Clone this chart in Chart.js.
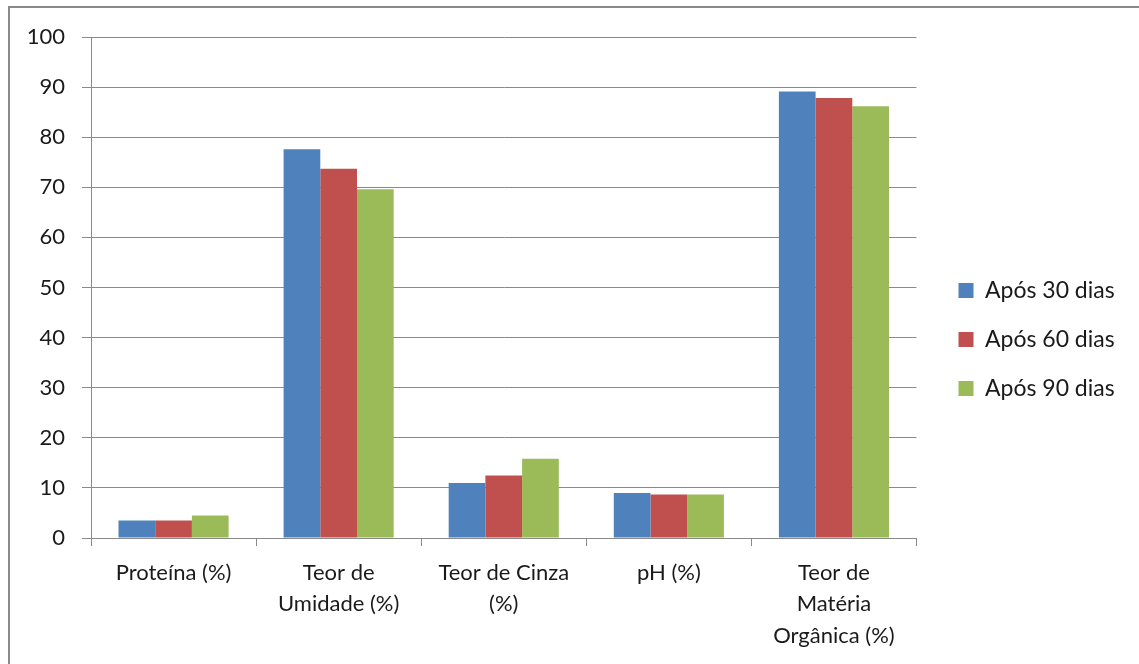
<!DOCTYPE html>
<html>
<head>
<meta charset="utf-8">
<script src="https://cdn.jsdelivr.net/npm/chart.js@4/dist/chart.umd.min.js"></script>
<style>
  html, body { margin: 0; padding: 0; background: #fff; }
  #wrap { position: relative; width: 1139px; height: 664px; overflow: hidden; }
  #frame { position: absolute; left: 8px; top: 6px; width: 1200px; height: 700px; border: 2px solid #8a8a8a; }
  #grafico { position: absolute; left: 0; top: 0; }
</style>
</head>
<body>
<div id="wrap">
  <div id="frame"></div>
  <canvas id="grafico" width="1139" height="664"></canvas>
</div>
<script>
var categorias = [
  'Proteína (%)',
  ['Teor de', 'Umidade (%)'],
  ['Teor de Cinza', '(%)'],
  'pH (%)',
  ['Teor de', 'Matéria', 'Orgânica (%)']
];
var apos30 = [3.5, 77.6, 11.0, 9.0, 89.1];
var apos60 = [3.5, 73.7, 12.5, 8.7, 87.8];
var apos90 = [4.5, 69.6, 15.8, 8.7, 86.2];
var nomes = ['Após 30 dias', 'Após 60 dias', 'Após 90 dias'];
var cores = ['#4F81BD', '#C0504D', '#9BBB59'];

var fonte = "Lato, 'Open Sans', sans-serif";
var cinza = '#8a8a8a';

var series = [apos30, apos60, apos90];
var datasets = [];
for (var i = 0; i < series.length; i++) {
  datasets.push({
    label: nomes[i],
    data: series[i],
    backgroundColor: cores[i],
    borderWidth: 0,
    categoryPercentage: 0.667,
    barPercentage: 1
  });
}

// caixas vazias so para afastar a area do grafico
var vazio = {
  grid: { display: false },
  border: { display: false },
  ticks: { display: false }
};

var ctx = document.getElementById('grafico');
var grafico = new Chart(ctx, {
  type: 'bar',
  data: { labels: categorias, datasets: datasets },
  options: {
    responsive: false,
    animation: false,
    layout: { padding: { top: 15, right: 20, bottom: 0, left: 0 } },
    scales: {
      x: {
        offset: true,
        grid: { offset: true, drawOnChartArea: false, color: cinza, tickLength: 8 },
        border: { color: cinza },
        ticks: { color: '#1a1a1a', padding: 11, maxRotation: 0, autoSkip: false,
                 font: { family: fonte, size: 22, lineHeight: 1.43 } },
        afterFit: function(s) { s.height = 126; }
      },
      y: {
        min: 0, max: 100,
        grid: { color: cinza, tickLength: 9 },
        border: { color: cinza },
        ticks: { stepSize: 10, color: '#1a1a1a', padding: 17,
                 font: { family: fonte, size: 22 } },
        afterFit: function(s) { s.width = 91; }
      },
      topo: Object.assign({ axis: 'x', position: 'top',
        afterFit: function(s) { s.height = 22; } }, vazio),
      folga: Object.assign({ axis: 'y', position: 'right',
        afterFit: function(s) { s.width = 16; } }, vazio)
    },
    plugins: {
      legend: {
        position: 'right',
        labels: { boxWidth: 15, boxHeight: 15, padding: 26, color: '#1a1a1a',
                  font: { family: fonte, size: 23 } }
      },
      tooltip: { enabled: false }
    }
  }
});
</script>
</body>
</html>
